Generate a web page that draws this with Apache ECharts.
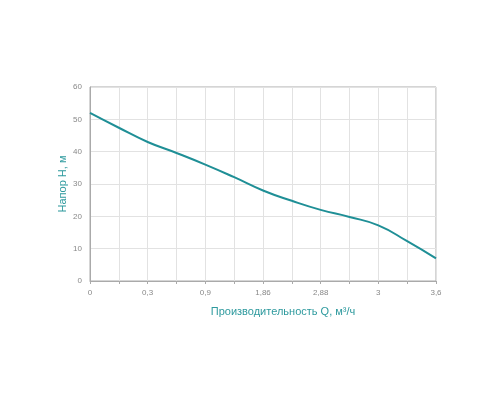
<!DOCTYPE html>
<html>
<head>
<meta charset="utf-8">
<script src="https://cdn.jsdelivr.net/npm/echarts@6/dist/echarts.min.js"></script>
<style>
html, body { margin: 0; padding: 0; background: #fff; }
#chart { width: 500px; height: 400px; }
</style>
</head>
<body>
<div id="chart"></div>
<script>
// расход Q, подписи через одну
var flowLabels = ['0', '', '0,3', '', '0,9', '', '1,86', '', '2,88', '', '3', '', '3,6'];
// напор H, м
var headValues = [52, 47.4, 43, 39.6, 36, 32.1, 28, 24.8, 22, 19.8, 17.2, 12.3, 7];

var chart = echarts.init(document.getElementById('chart'));

var option = {
    animation: false,
    grid: {
        left: 90,
        right: 64,
        top: 87,
        bottom: 119,
        show: true,
        borderColor: '#aaa',
        borderWidth: 1
    },
    xAxis: {
        type: 'category',
        boundaryGap: false,
        data: flowLabels,
        name: 'Производительность Q, м³/ч',
        nameLocation: 'middle',
        nameGap: 25,
        nameMoveOverlap: false,
        nameTextStyle: { color: '#2e9a9e', fontSize: 11, fontFamily: 'Liberation Sans', padding: [0, 0, 0, 40] },
        axisLine: { lineStyle: { color: '#aaa' } },
        axisTick: { show: true, interval: 0, length: 3, lineStyle: { color: '#aaa' } },
        axisLabel: { interval: 0, color: '#888', fontSize: 8, margin: 8, fontFamily: 'Liberation Sans' },
        splitLine: { show: true, interval: 0, lineStyle: { color: '#e2e2e2' } }
    },
    yAxis: {
        type: 'value',
        min: 0,
        max: 60,
        interval: 10,
        name: 'Напор H, м',
        nameLocation: 'middle',
        nameGap: 22,
        nameMoveOverlap: false,
        nameTextStyle: { color: '#2e9a9e', fontSize: 11, fontFamily: 'Liberation Sans' },
        axisLine: { show: true, lineStyle: { color: '#aaa' } },
        axisTick: { show: false },
        axisLabel: { color: '#888', fontSize: 8, margin: 8, fontFamily: 'Liberation Sans' },
        splitLine: { lineStyle: { color: '#e2e2e2' } }
    },
    series: [
        {
            type: 'line',
            data: headValues,
            smooth: 0.5,
            showSymbol: false,
            lineStyle: { color: '#1f8f96', width: 2 }
        }
    ]
};

chart.setOption(option);
</script>
</body>
</html>
